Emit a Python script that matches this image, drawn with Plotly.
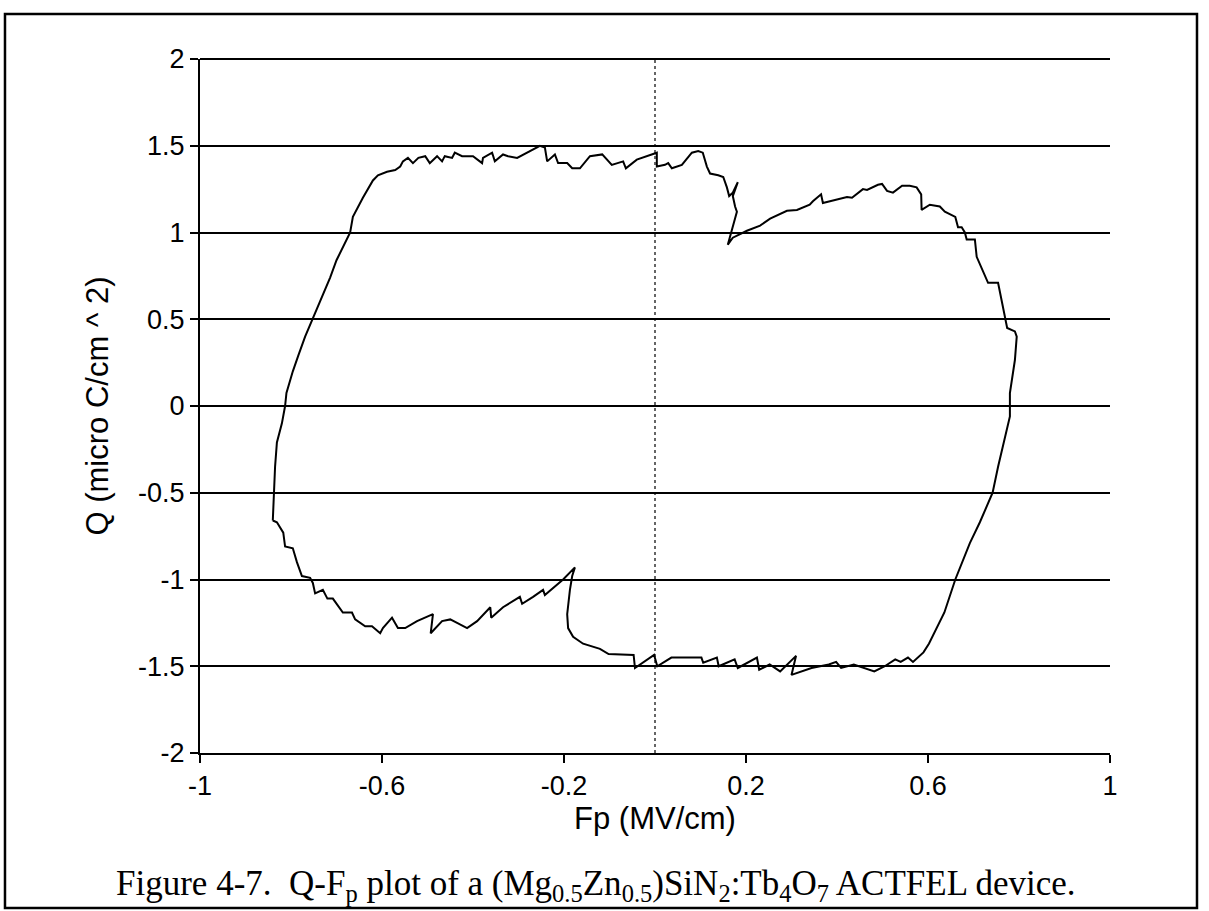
import plotly.graph_objects as go

# Q-Fp loop, traced clockwise (Fp in MV/cm, Q in micro C/cm^2)
fp = [
    -0.840, -0.831, -0.817, -0.813, -0.796, -0.787, -0.776, -0.758, -0.752, -0.747,
    -0.730, -0.720, -0.708, -0.686, -0.666, -0.659, -0.637, -0.622, -0.604, -0.598,
    -0.578, -0.565, -0.549, -0.523, -0.488, -0.493, -0.468, -0.450, -0.435, -0.413,
    -0.391, -0.362, -0.360, -0.334, -0.297, -0.292, -0.268, -0.246, -0.242, -0.202,
    -0.176, -0.182, -0.187, -0.193, -0.193, -0.191, -0.180, -0.158, -0.121, -0.102,
    -0.047, -0.044, -0.002, 0.005, 0.036, 0.102, 0.106, 0.136, 0.140, 0.175,
    0.182, 0.224, 0.229, 0.252, 0.275, 0.310, 0.300, 0.344, 0.382, 0.398,
    0.409, 0.437, 0.464, 0.482, 0.505, 0.528, 0.540, 0.556, 0.567, 0.590,
    0.602, 0.636, 0.660, 0.692, 0.714, 0.742, 0.754, 0.769, 0.780, 0.780,
    0.791, 0.795, 0.791, 0.774, 0.771, 0.754, 0.732, 0.718, 0.707, 0.703,
    0.685, 0.681, 0.674, 0.666, 0.660, 0.637, 0.626, 0.604, 0.586, 0.585,
    0.575, 0.560, 0.543, 0.523, 0.510, 0.499, 0.490, 0.466, 0.457, 0.433,
    0.422, 0.369, 0.365, 0.347, 0.340, 0.312, 0.290, 0.253, 0.231, 0.202,
    0.187, 0.171, 0.160, 0.171, 0.180, 0.176, 0.171, 0.182, 0.171, 0.163,
    0.158, 0.150, 0.139, 0.121, 0.114, 0.105, 0.095, 0.081, 0.059, 0.037,
    0.029, 0.022, 0.004, 0.004, -0.018, -0.040, -0.064, -0.070, -0.095, -0.116,
    -0.143, -0.165, -0.182, -0.193, -0.213, -0.220, -0.237, -0.242, -0.253, -0.275,
    -0.303, -0.323, -0.334, -0.352, -0.358, -0.378, -0.380, -0.400, -0.424, -0.440,
    -0.446, -0.462, -0.468, -0.479, -0.495, -0.505, -0.520, -0.532, -0.543, -0.554,
    -0.560, -0.571, -0.589, -0.609, -0.620, -0.642, -0.664, -0.670, -0.700, -0.714,
    -0.752, -0.769, -0.784, -0.796, -0.810, -0.813, -0.820, -0.831, -0.835, -0.837,
    -0.840,
]
q = [
    -0.66, -0.67, -0.73, -0.81, -0.82, -0.90, -0.98, -0.99, -1.02, -1.08,
    -1.06, -1.11, -1.11, -1.19, -1.19, -1.23, -1.27, -1.27, -1.31, -1.28,
    -1.22, -1.28, -1.28, -1.24, -1.20, -1.31, -1.24, -1.23, -1.25, -1.28,
    -1.24, -1.16, -1.22, -1.16, -1.10, -1.14, -1.10, -1.06, -1.09, -1.00,
    -0.93, -0.98, -1.06, -1.17, -1.20, -1.28, -1.33, -1.37, -1.40, -1.43,
    -1.435, -1.51, -1.435, -1.50, -1.45, -1.45, -1.48, -1.45, -1.50, -1.46,
    -1.51, -1.45, -1.52, -1.49, -1.53, -1.44, -1.55, -1.51, -1.49, -1.475,
    -1.51, -1.49, -1.515, -1.53, -1.50, -1.46, -1.475, -1.45, -1.475, -1.42,
    -1.37, -1.19, -1.00, -0.79, -0.67, -0.50, -0.35, -0.18, -0.06, 0.075,
    0.265, 0.40, 0.43, 0.45, 0.49, 0.71, 0.71, 0.80, 0.86, 0.96,
    0.96, 1.00, 1.03, 1.03, 1.09, 1.12, 1.15, 1.16, 1.13, 1.22,
    1.26, 1.27, 1.27, 1.23, 1.24, 1.28, 1.275, 1.245, 1.25, 1.20,
    1.205, 1.17, 1.22, 1.18, 1.16, 1.13, 1.125, 1.08, 1.04, 1.01,
    0.99, 0.97, 0.93, 1.03, 1.12, 1.15, 1.21, 1.29, 1.23, 1.21,
    1.26, 1.32, 1.33, 1.34, 1.38, 1.46, 1.47, 1.46, 1.39, 1.37,
    1.40, 1.39, 1.38, 1.46, 1.44, 1.42, 1.37, 1.41, 1.39, 1.45,
    1.44, 1.37, 1.37, 1.40, 1.40, 1.45, 1.41, 1.49, 1.50, 1.47,
    1.43, 1.44, 1.45, 1.41, 1.46, 1.43, 1.40, 1.44, 1.44, 1.46,
    1.43, 1.44, 1.41, 1.44, 1.40, 1.44, 1.43, 1.40, 1.43, 1.41,
    1.38, 1.36, 1.35, 1.33, 1.30, 1.20, 1.09, 1.00, 0.84, 0.74,
    0.51, 0.40, 0.29, 0.20, 0.075, 0.00, -0.10, -0.21, -0.35, -0.50,
    -0.66,
]

x_tickvals = [-1, -0.6, -0.2, 0.2, 0.6, 1]
x_ticktext = ["-1", "-0.6", "-0.2", "0.2", "0.6", "1"]
y_tickvals = [-2, -1.5, -1, -0.5, 0, 0.5, 1, 1.5, 2]
y_ticktext = ["-2", "-1.5", "-1", "-0.5", "0", "0.5", "1", "1.5", "2"]

x_title = "Fp (MV/cm)"
y_title = "Q (micro C/cm ^ 2)"
caption = ("Figure 4-7.  Q-F<sub>p</sub> plot of a (Mg<sub>0.5</sub>Zn<sub>0.5</sub>)"
           "SiN<sub>2</sub>:Tb<sub>4</sub>O<sub>7</sub> ACTFEL device.")

fig = go.Figure()
fig.add_trace(go.Scatter(x=fp, y=q, mode="lines",
                         line=dict(color="black", width=2), showlegend=False,
                         hoverinfo="skip"))

sans = "Liberation Sans, Arial, sans-serif"
fig.update_layout(
    width=1209, height=911,
    margin=dict(l=200, r=99, t=59, b=158, pad=0),
    paper_bgcolor="white", plot_bgcolor="white",
    font=dict(family=sans, color="black", size=27),
    xaxis=dict(range=[-1, 1], tickvals=x_tickvals, ticktext=x_ticktext,
               showgrid=False, zeroline=False, showline=True, linecolor="black",
               linewidth=2, ticks="outside", ticklen=8, tickcolor="black",
               tickwidth=1.5, tickfont=dict(size=27),
               title=dict(text=x_title, font=dict(size=31), standoff=6)),
    yaxis=dict(range=[-2, 2], tickvals=y_tickvals, ticktext=y_ticktext,
               showgrid=True, gridcolor="black", gridwidth=2.2, zeroline=False,
               showline=True, linecolor="black", linewidth=2,
               ticks="outside", ticklen=8, tickcolor="black", tickwidth=1.5,
               tickfont=dict(size=27),
               title=dict(text=y_title, font=dict(size=31), standoff=20)),
)

# top edge of the plot area (gridline at Q = 2)
fig.add_shape(type="line", xref="paper", yref="paper", x0=0, x1=1, y0=1, y1=1,
              line=dict(color="black", width=2.2))
# dotted reference line at Fp = 0
fig.add_shape(type="line", xref="x", yref="paper", x0=0, x1=0, y0=0, y1=1,
              line=dict(color="black", width=1.2, dash="dot"), layer="below")
# page frame around the figure and caption
fig.add_shape(type="rect", xref="paper", yref="paper",
              x0=-0.2143, x1=1.0956, y0=-0.2233, y1=1.0648,
              line=dict(color="black", width=2.5))
fig.add_annotation(text=caption, xref="paper", yref="paper", x=0.435, y=-0.191,
                   xanchor="center", yanchor="middle", showarrow=False,
                   font=dict(family="Liberation Serif, Times New Roman, serif",
                             size=35, color="black"))

fig.write_html("out.html")
